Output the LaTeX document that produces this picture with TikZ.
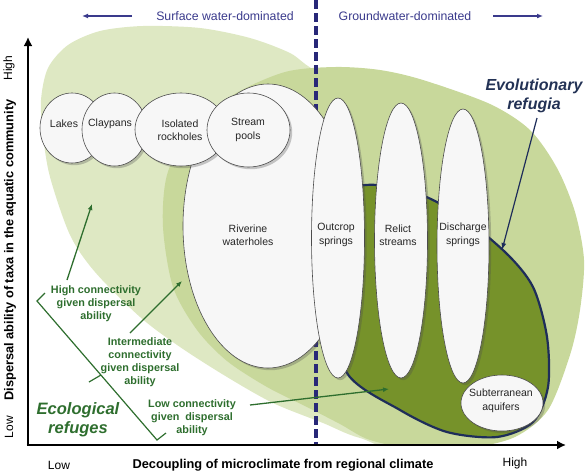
\documentclass[tikz,border=0pt]{standalone}
\usepackage{fontspec}
\setmainfont{Liberation Sans}
\usetikzlibrary{shapes.geometric,shadows,arrows.meta}
\definecolor{paleA}{RGB}{222,232,195}
\definecolor{medB}{RGB}{200,216,155}
\definecolor{darkEvo}{RGB}{118,146,42}
\definecolor{navyline}{RGB}{30,45,90}
\definecolor{dashcol}{RGB}{40,40,120}
\definecolor{topcol}{RGB}{58,58,140}
\definecolor{gtext}{RGB}{46,110,46}
\definecolor{evocol}{RGB}{35,50,85}
\definecolor{wfill}{RGB}{247,247,247}
\begin{document}
\begin{tikzpicture}[x=1pt,y=-1pt,
  wb/.style={ellipse, draw=black!70, line width=0.6pt, fill=wfill, inner sep=0pt,
    drop shadow={shadow xshift=2.2pt, shadow yshift=-2.2pt, opacity=0.3, fill=black!70}},
  lbl/.style={font=\fontsize{10.5}{13.5}\selectfont, align=center, text=black!85, inner sep=0pt},
  gtxt/.style={font=\fontsize{10.8}{13}\selectfont\bfseries, text=gtext, align=center, inner sep=0pt},
  garrow/.style={draw=gtext, line width=1.3pt, -{Latex[length=6pt,width=5pt]}},
  axisline/.style={line width=2.6pt, black, -{Latex[length=9pt,width=9pt]}},
  topline/.style={draw=topcol, line width=1.4pt, -{Latex[length=6pt,width=5pt]}},
  toptxt/.style={font=\fontsize{12.3}{14}\selectfont, text=topcol, inner sep=0pt},
  axtxt/.style={font=\fontsize{12}{14}\selectfont, inner sep=0pt},
  axlbl/.style={font=\fontsize{12.8}{14}\selectfont\bfseries, inner sep=0pt},
]
\useasboundingbox (0,0) rectangle (585,474);

% green fields
\begin{scope}
\clip (0,0) rectangle (585,445);
\path[fill=paleA] plot[smooth cycle] coordinates {
 (320,72) (290,53) (250,38) (200,28) (143,26) (100,31) (68,45) (48,68) (41,100)
 (43,135) (50,177) (70,235) (95,272) (140,317) (180,347) (227,377) (273,403)
 (323,423) (360,438) (430,452) (480,330) (470,170) (400,90)};
\path[fill=medB] plot[smooth cycle] coordinates {
 (335,67) (380,70) (423,80) (490,104) (530,130) (557,168) (575,212) (584,260)
 (580,310) (570,355) (548,410) (515,437) (470,448) (420,450) (370,440) (340,424)
 (307,407) (267,387) (227,361) (197,330) (173,287) (163,227) (167,175) (190,130)
 (233,95) (285,72)};
\end{scope}

% evolutionary refugia region
\path[fill=darkEvo, draw=navyline, line width=2.2pt] plot[smooth cycle] coordinates {
 (345,195) (400,188) (455,212) (505,252) (533,287) (547,337) (548,387) (533,422)
 (497,437) (447,432) (400,410) (347,373) (334,300)};

% dashed divide
\coordinate (dtop) at (316,0);
\coordinate (dbot) at (316,445);
\draw[dashcol, line width=3.6pt, dash pattern=on 9pt off 4pt] (dtop) -- (dbot);

% white habitat ellipses
\node[wb, minimum width=170pt, minimum height=284pt] (riverine) at (268,226) {};
\node[wb, minimum width=64pt, minimum height=70pt] (lakes) at (72,128) {};
\node[wb, minimum width=65pt, minimum height=73pt] (claypans) at (114.5,129.5) {};
\node[wb, minimum width=92pt, minimum height=73pt] (rockholes) at (181,129.5) {};
\node[wb, minimum width=83pt, minimum height=74pt] (pools) at (248.5,130) {};
\node[wb, minimum width=53pt, minimum height=280pt] (outcrop) at (338,238) {};
\node[wb, minimum width=53pt, minimum height=275pt] (relict) at (401,240.5) {};
\node[wb, minimum width=52pt, minimum height=274pt] (discharge) at (463,246) {};
\node[wb, minimum width=82pt, minimum height=56pt] (subterr) at (502,403) {};

\node[lbl] (tLakes) at (64,124) {Lakes};
\node[lbl] (tClay) at (110,124) {Claypans};
\node[lbl] (tRock) at (180,130) {Isolated\\rockholes};
\node[lbl] (tPools) at (248,130) {Stream\\pools};
\node[lbl] (tRiv) at (248,235) {Riverine\\waterholes};
\node[lbl] (tOut) at (336,235) {Outcrop\\springs};
\node[lbl] (tRel) at (398,235) {Relict\\streams};
\node[lbl] (tDis) at (463,235) {Discharge\\springs};
\node[lbl] (tSub) at (501,401) {Subterranean\\aquifers};

% axes
\coordinate (origin) at (28,445);
\coordinate (ytop) at (28,37);
\coordinate (xend) at (566,445);
\draw[axisline] (origin) -- (ytop);
\draw[axisline] ([xshift=-1.3pt]origin) -- (xend);

\node[axlbl] (xlab) at (283,465) {Decoupling of microclimate from regional climate};
\node[axlbl, rotate=90] (ylab) at (10,250) {Dispersal ability of taxa in the aquatic community};
\node[axtxt, rotate=90] (yhigh) at (9,68) {High};
\node[axtxt, rotate=90] (ylow) at (9,427) {Low};
\node[axtxt] (xlow) at (59,465) {Low};
\node[axtxt] (xhigh) at (515,463) {High};

% top labels
\node[toptxt] (surf) at (225,16) {Surface water-dominated};
\node[toptxt] (ground) at (405,16) {Groundwater-dominated};
\coordinate (sA) at (132,16); \coordinate (sB) at (82,16);
\coordinate (gA) at (493,16); \coordinate (gB) at (543,16);
\draw[topline] (sA) -- (sB);
\draw[topline] (gA) -- (gB);

% evolutionary refugia label
\node[font=\fontsize{16}{19}\selectfont\bfseries\itshape, text=evocol, align=center, inner sep=0pt] (evo) at (534,96) {Evolutionary\\refugia};
\coordinate (evoTail) at (537,118);
\coordinate (evoTip) at (502,250);
\draw[navyline, line width=1.2pt, -{Latex[length=7pt,width=5pt]}] (evoTail) -- (evoTip);

% ecological refuges
\node[font=\fontsize{16.5}{19}\selectfont\bfseries\itshape, text=gtext, align=center, inner sep=0pt] (eco) at (78,420) {Ecological\\refuges};

\node[gtxt] (hi) at (96,304) {High connectivity\\given dispersal\\ability};
\node[gtxt] (mid) at (140,362) {Intermediate\\connectivity\\given dispersal\\ability};
\node[gtxt] (lo) at (192,418) {Low connectivity\\given\ \ dispersal\\ability};

\coordinate (hiTail) at (67,280); \coordinate (hiTip) at (92,204);
\coordinate (midTail) at (130,333); \coordinate (midTip) at (182,281);
\coordinate (loTail) at (250,405); \coordinate (loTip) at (389,389);
\draw[garrow] (hiTail) -- (hiTip);
\draw[garrow] (midTail) -- (midTip);
\draw[garrow] (loTail) -- (loTip);

% bracket
\coordinate (bA) at (45,293); \coordinate (bB) at (37,301);
\coordinate (bC) at (157,440); \coordinate (bD) at (166,433);
\coordinate (tA) at (101,375); \coordinate (tB) at (89,382);
\draw[gtext, line width=1.2pt] (bA) -- (bB) -- (bC) -- (bD);
\draw[gtext, line width=1.2pt] (tA) -- (tB);
\end{tikzpicture}
\end{document}
